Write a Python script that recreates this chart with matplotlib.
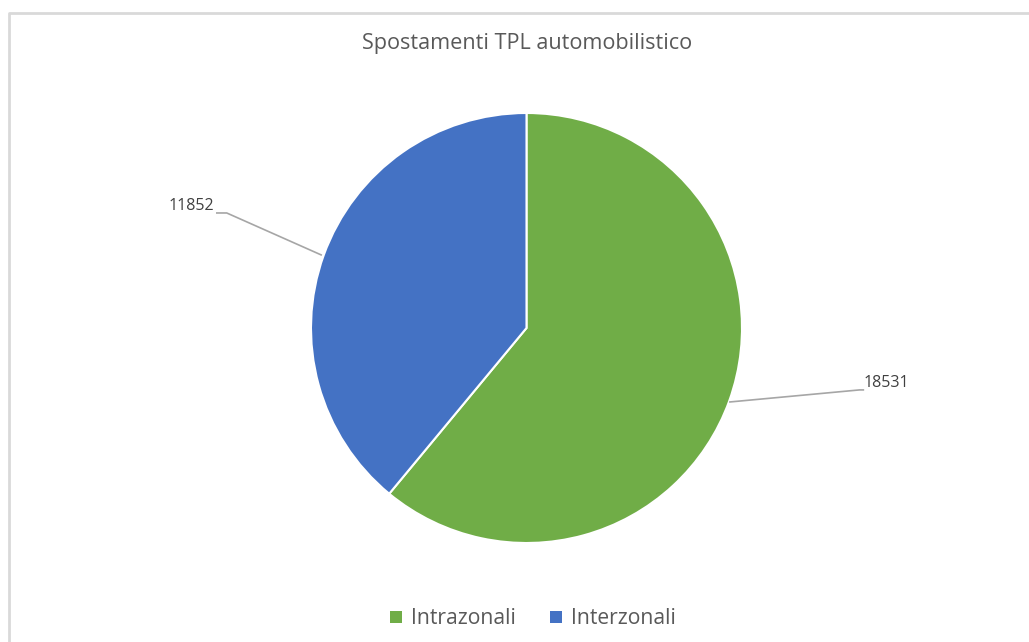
import matplotlib
matplotlib.use("Agg")
import matplotlib.pyplot as plt
from matplotlib.lines import Line2D
from matplotlib.patches import Patch

categories = ["Intrazonali", "Interzonali"]
values = [18531, 11852]
colors = ["#70AD47", "#4472C4"]
title = "Spostamenti TPL automobilistico"

plt.rcParams["font.family"] = ["Open Sans", "DejaVu Sans"]
text_color = "#595959"

fig = plt.figure(figsize=(10.29, 6.42), dpi=100)

# chart frame: only left and top edges are visible
y_top = 1 - 12.5 / 642
x_left = 8.5 / 1029
fig.add_artist(Line2D([x_left, x_left, 1.0], [0.0, y_top, y_top],
                      transform=fig.transFigure, color="#d9d9d9", linewidth=2))

ax = fig.add_axes([311 / 1029, 99 / 642, 431 / 1029, 430 / 642])
wedges, _ = ax.pie(values, colors=colors, startangle=90, counterclock=False,
                   wedgeprops=dict(edgecolor="white", linewidth=1.5))
ax.set_xlim(-1, 1)
ax.set_ylim(-1, 1)
ax.set_aspect("auto")

# leader lines + data labels
line_kw = dict(color="#a6a6a6", linewidth=1.2, clip_on=False)
ax.plot([-0.953, -1.391, -1.437], [0.340, 0.535, 0.535], **line_kw)
ax.text(-1.447, 0.530, str(values[1]), ha="right", va="bottom",
        fontsize=11.5, color="#404040")
ax.plot([0.944, 1.545, 1.563], [-0.344, -0.288, -0.288], **line_kw)
ax.text(1.565, -0.295, str(values[0]), ha="left", va="bottom",
        fontsize=11.5, color="#404040")

fig.text(527 / 1029, 1 - 44 / 642, title, ha="center", va="center",
         fontsize=15.6, color=text_color)

handles = [Patch(facecolor=c, edgecolor="none") for c in colors]
fig.legend(handles, categories, loc="center", bbox_to_anchor=(533 / 1029, 1 - 619 / 642),
           ncol=2, frameon=False, fontsize=15.2, labelcolor=text_color,
           handlelength=0.55, handleheight=0.55, handletextpad=0.45, columnspacing=1.6)

fig.savefig("out.png", dpi=100)
